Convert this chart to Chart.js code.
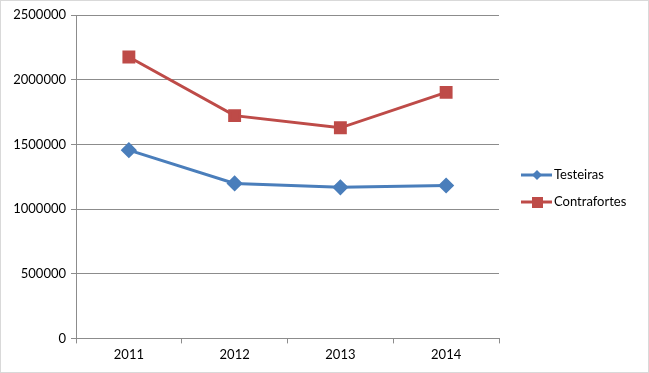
<!DOCTYPE html>
<html>
<head>
<meta charset="utf-8">
<script src="https://cdn.jsdelivr.net/npm/chart.js@4.4.0/dist/chart.umd.min.js"></script>
<style>
  html, body { margin: 0; padding: 0; background: #fff; }
  #caja { position: relative; width: 647px; height: 371px; border: 1px solid #d9d9d9; }
</style>
</head>
<body>
<div id="caja"><canvas id="grafico"></canvas></div>
<script>
// Datos
const anos = ['2011', '2012', '2013', '2014'];
const testeiras = [1455000, 1198000, 1168000, 1182000];
const contrafortes = [2175000, 1722000, 1628000, 1902000];
const series = ['Testeiras', 'Contrafortes'];

const AZUL = '#4A7EBB';
const ROJO = '#BE4B48';
const fuente = "Lato, 'Open Sans', sans-serif";

// Leyenda estilo Excel (línea con marcador)
const leyendaExcel = {
    id: 'leyendaExcel',
    afterDraw(chart) {
        const ctx = chart.ctx;
        const items = [
            { txt: series[0], color: AZUL, forma: 'rombo', y: 174 },
            { txt: series[1], color: ROJO, forma: 'cuadro', y: 201 }
        ];
        ctx.save();
        items.forEach(it => {
            ctx.strokeStyle = it.color;
            ctx.lineWidth = 3;
            ctx.beginPath();
            ctx.moveTo(520, it.y);
            ctx.lineTo(551, it.y);
            ctx.stroke();
            ctx.fillStyle = it.color;
            if (it.forma === 'rombo') {
                ctx.beginPath();
                ctx.moveTo(536, it.y - 5);
                ctx.lineTo(541, it.y);
                ctx.lineTo(536, it.y + 5);
                ctx.lineTo(531, it.y);
                ctx.closePath();
                ctx.fill();
            } else {
                ctx.fillRect(531, it.y - 5, 11, 11);
            }
            ctx.fillStyle = '#000';
            ctx.font = '13px ' + fuente;
            ctx.textBaseline = 'middle';
            ctx.fillText(it.txt, 553, it.y);
        });
        ctx.restore();
    }
};

new Chart(document.getElementById('grafico'), {
    type: 'line',
    data: {
        labels: anos,
        datasets: [
            {
                label: series[0],
                data: testeiras,
                borderColor: AZUL,
                backgroundColor: AZUL,
                borderWidth: 3,
                pointStyle: 'rectRot',
                pointRadius: 6,
                pointHoverRadius: 6,
                tension: 0
            },
            {
                label: series[1],
                data: contrafortes,
                borderColor: ROJO,
                backgroundColor: ROJO,
                borderWidth: 3,
                pointStyle: 'rect',
                pointRadius: 7,
                pointHoverRadius: 7,
                tension: 0
            }
        ]
    },
    options: {
        responsive: true,
        maintainAspectRatio: false,
        animation: false,
        layout: { padding: { left: 0, right: 149, top: 14, bottom: 5 } },
        plugins: {
            legend: { display: false },
            tooltip: { enabled: false }
        },
        scales: {
            x: {
                offset: true,
                grid: {
                    offset: true,
                    drawOnChartArea: false,
                    color: '#8c8c8c',
                    tickLength: 5
                },
                border: { color: '#8c8c8c' },
                ticks: { color: '#000', font: { family: fuente, size: 13 }, padding: 4 }
            },
            y: {
                min: 0,
                max: 2500000,
                afterFit: s => { s.width = 75; },
                grid: { color: '#8c8c8c', tickLength: 5 },
                border: { color: '#8c8c8c' },
                ticks: {
                    stepSize: 500000,
                    color: '#000',
                    font: { family: fuente, size: 13 },
                    padding: 5,
                    callback: v => String(v)
                }
            }
        }
    },
    plugins: [leyendaExcel]
});
</script>
</body>
</html>
